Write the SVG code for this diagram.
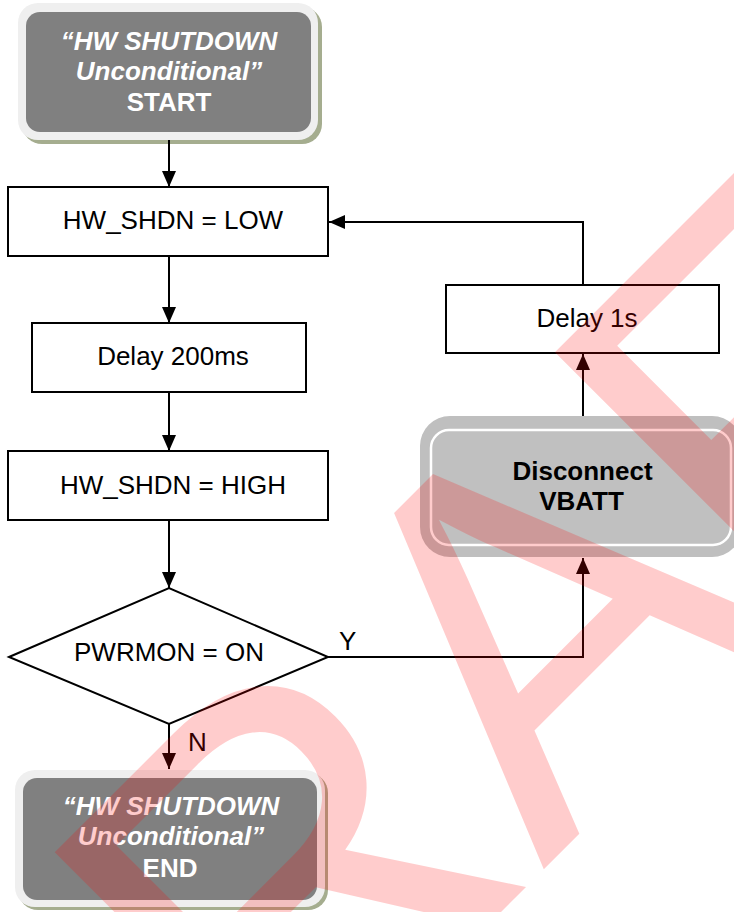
<svg xmlns="http://www.w3.org/2000/svg" width="734" height="912" viewBox="0 0 734 912">
  <defs>
    <marker id="arrow" viewBox="0 0 16 14" refX="16" refY="7" markerWidth="16" markerHeight="14" markerUnits="userSpaceOnUse" orient="auto">
      <path d="M0,0 L16,7 L0,14 z" fill="#000"/>
    </marker>
  </defs>
  <style>
    text { font-family: "Liberation Sans", Arial, sans-serif; font-size: 26px; }
    .box { fill: #fff; stroke: #000; stroke-width: 2; }
    .lbl { fill: #000; text-anchor: middle; }
    .term-shadow { fill: #a5ad8f; }
    .term-rim { fill: #efefef; }
    .term-body { fill: #808080; }
    .term-txt { fill: #fff; font-weight: bold; text-anchor: middle; }
    .it { font-style: italic; }
    .act-rim { fill: #bfbfbf; }
    .act-body { fill: #c0c0c0; stroke: #fff; stroke-width: 2.5; }
    .act-txt { fill: #000; font-weight: bold; text-anchor: middle; }
    .conn { fill: none; stroke: #000; stroke-width: 2; }
    .tag { fill: #000; }
    .wm { font-size: 520px; fill: #ff0000; fill-opacity: 0.2; }
  </style>

  <!-- start terminator -->
  <g id="start">
    <rect class="term-shadow" x="22" y="7" width="300" height="137" rx="20"/>
    <rect class="term-rim" x="18" y="3" width="300" height="137" rx="20"/>
    <rect class="term-body" x="26" y="12" width="285" height="120" rx="14"/>
    <text class="term-txt it" x="169" y="50">“HW SHUTDOWN</text>
    <text class="term-txt it" x="169" y="80">Unconditional”</text>
    <text class="term-txt" x="169" y="111">START</text>
  </g>

  <g id="shdn-low">
    <rect class="box" x="8" y="187" width="320" height="69"/>
    <text class="lbl" x="173" y="229">HW_SHDN = LOW</text>
  </g>

  <g id="delay-200ms">
    <rect class="box" x="32" y="323" width="274" height="69"/>
    <text class="lbl" x="173" y="365">Delay 200ms</text>
  </g>

  <g id="shdn-high">
    <rect class="box" x="8" y="451" width="320" height="69"/>
    <text class="lbl" x="173" y="494">HW_SHDN = HIGH</text>
  </g>

  <g id="pwrmon-check">
    <polygon class="box" points="9,657 169,588 328,657 169,724"/>
    <text class="lbl" x="169" y="661">PWRMON = ON</text>
  </g>

  <!-- end terminator -->
  <g id="end">
    <rect class="term-shadow" x="18" y="773" width="310" height="137" rx="20"/>
    <rect class="term-rim" x="15" y="770" width="310" height="137" rx="20"/>
    <rect class="term-body" x="23" y="778" width="294" height="122" rx="14"/>
    <text class="term-txt it" x="171" y="815">“HW SHUTDOWN</text>
    <text class="term-txt it" x="171" y="845">Unconditional”</text>
    <text class="term-txt" x="170" y="877">END</text>
  </g>

  <g id="disconnect-vbatt">
    <rect class="act-rim" x="420" y="416" width="322" height="141" rx="30"/>
    <rect class="act-body" x="431" y="430" width="300" height="115" rx="18"/>
    <text class="act-txt" x="582.5" y="480">Disconnect</text>
    <text class="act-txt" x="581.5" y="510">VBATT</text>
  </g>

  <g id="delay-1s">
    <rect class="box" x="446" y="285" width="273" height="68"/>
    <text class="lbl" x="587" y="327">Delay 1s</text>
  </g>

  <g id="connectors">
    <path class="conn" d="M169,140 V187" marker-end="url(#arrow)"/>
    <path class="conn" d="M169,256 V323" marker-end="url(#arrow)"/>
    <path class="conn" d="M169,392 V451" marker-end="url(#arrow)"/>
    <path class="conn" d="M169,520 V588" marker-end="url(#arrow)"/>
    <path class="conn" d="M169,724 V769" marker-end="url(#arrow)"/>
    <path class="conn" d="M328,657 H583 V558" marker-end="url(#arrow)"/>
    <path class="conn" d="M583,416 V354" marker-end="url(#arrow)"/>
    <path class="conn" d="M583,285 V222 H329" marker-end="url(#arrow)"/>
    <text class="tag" x="339" y="650">Y</text>
    <text class="tag" x="188" y="751">N</text>
  </g>

  <!-- watermark across the sheet -->
  <text class="wm" transform="translate(12,1401) rotate(-45)">DRA<tspan dx="-15">FT</tspan></text>
</svg>
